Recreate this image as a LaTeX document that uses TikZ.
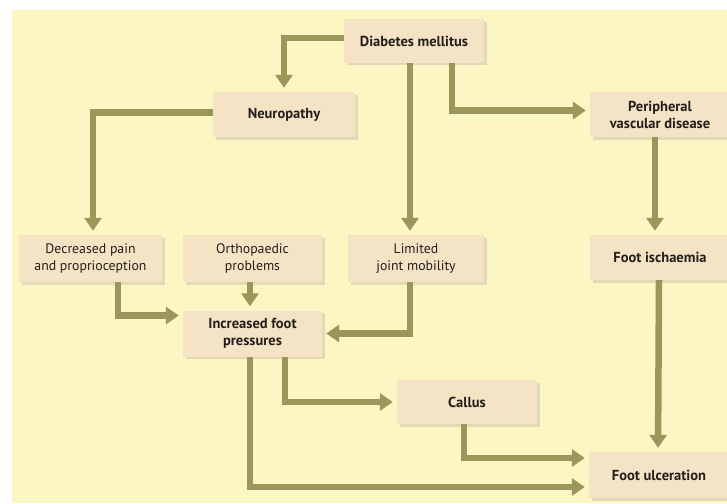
\documentclass[tikz,border=0pt]{standalone}
\usepackage{fontspec}
\setmainfont{PT Sans}
\usetikzlibrary{arrows.meta,shadows}
\definecolor{bgyel}{HTML}{FCF6C3}
\definecolor{boxfill}{HTML}{F5E3C6}
\definecolor{boxshadow}{HTML}{E3D9B6}
\definecolor{arrcol}{HTML}{9B975A}
\definecolor{txt}{HTML}{231F1A}
\tikzset{
  box/.style={fill=boxfill, text=txt, align=center, inner sep=0pt,
    font=\fontsize{13.8}{17}\selectfont,
    drop shadow={shadow xshift=2.5pt, shadow yshift=-2.5pt, fill=boxshadow, opacity=1}},
  bbox/.style={box, font=\fontsize{14.5}{17}\selectfont\bfseries},
  arr/.style={draw=arrcol, line width=6.5pt, shorten >=4pt,
    -{Triangle[length=13pt,width=17pt]}},
}
\begin{document}
\begin{tikzpicture}[x=1pt,y=-1pt]
\useasboundingbox (0,0) rectangle (727,503);
\fill[white] (0,0) rectangle (727,503);
\fill[bgyel] (12,10) rectangle (727,503);

\node[bbox, minimum width=140pt, minimum height=43pt] (dm) at (414,41) {Diabetes mellitus};
\node[bbox, minimum width=142pt, minimum height=45pt] (neu) at (284,114.5) {Neuropathy};
\node[bbox, minimum width=140pt, minimum height=45pt] (pvd) at (660,114.5) {Peripheral\\vascular disease};
\node[box, minimum width=143pt, minimum height=47pt] (dec) at (90.5,258.5) {Decreased pain\\and proprioception};
\node[box, minimum width=139pt, minimum height=47pt] (orth) at (252.5,258.5) {Orthopaedic\\problems};
\node[box, minimum width=136pt, minimum height=47pt] (lim) at (416,258.5) {Limited\\joint mobility};
\node[bbox, minimum width=140pt, minimum height=45pt] (fi) at (660,257.5) {Foot ischaemia};
\node[bbox, minimum width=139pt, minimum height=46pt] (inc) at (252.5,333.5) {Increased foot\\pressures};
\node[bbox, minimum width=140pt, minimum height=44pt] (cal) at (467,402) {Callus};
\node[bbox, minimum width=140pt, minimum height=46pt] (fu) at (659,475) {Foot ulceration};

\draw[arr] ([yshift=3pt]dm.west) -| (neu.north);
\draw[arr] ([yshift=2pt]neu.west) -| ([xshift=2.5pt]dec.north);
\draw[arr] ([xshift=-4pt]dm.south) -- ([xshift=-4pt]dm.south |- lim.north);
\draw[arr] ([xshift=38pt]dm.south) |- ([yshift=4pt]pvd.west);
\draw[arr] ([xshift=-5pt]pvd.south) -- ([xshift=-5pt]fi.north);
\draw[arr] ([xshift=-1pt]fi.south) -- ([xshift=-1pt]fu.north);
\draw[arr] ([xshift=27.5pt]dec.south) |- ([yshift=18pt]inc.west);
\draw[arr] ([xshift=-2.5pt]orth.south) -- ([xshift=-2.5pt]inc.north);
\draw[arr] ([xshift=-6pt]lim.south) |- (inc.east);
\draw[arr] ([xshift=32.5pt]inc.south) |- (cal.west);
\draw[arr] ([xshift=-2.5pt]inc.south) |- ([yshift=-12pt]fu.west);
\draw[arr] ([xshift=-3pt]cal.south) |- ([yshift=17pt]fu.west);
\end{tikzpicture}
\end{document}
